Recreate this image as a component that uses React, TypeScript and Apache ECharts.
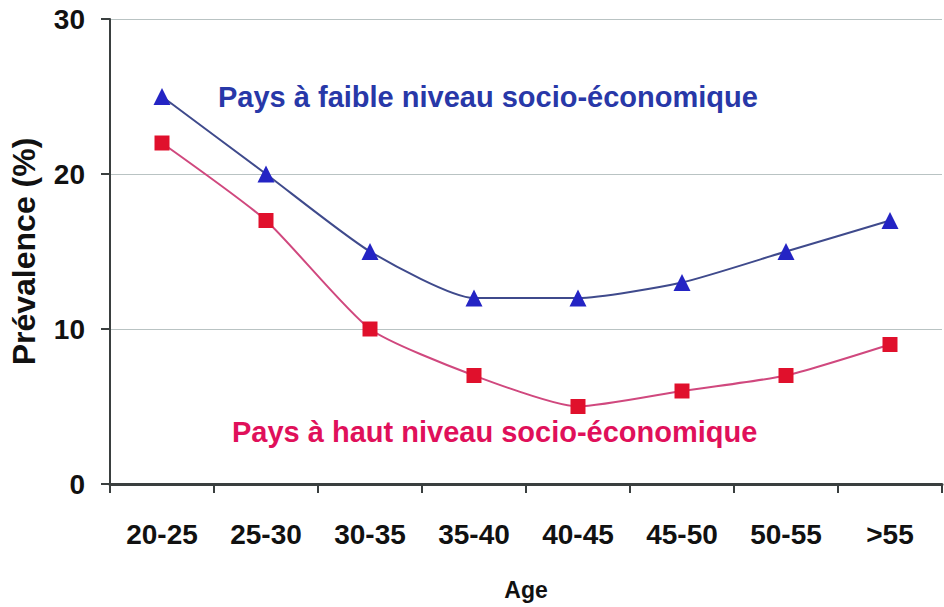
import React, { useEffect, useRef } from "react";
import * as echarts from "echarts";

const categories = ["20-25", "25-30", "30-35", "35-40", "40-45", "45-50", "50-55", ">55"];
const lowIncome = [25, 20, 15, 12, 12, 13, 15, 17];
const highIncome = [22, 17, 10, 7, 5, 6, 7, 9];
const yTicks = [0, 10, 20, 30];
const lowLabel = "Pays à faible niveau socio-économique";
const highLabel = "Pays à haut niveau socio-économique";

export default function App() {
  const ref = useRef<HTMLDivElement>(null);
  useEffect(() => {
    const chart = echarts.init(ref.current!, undefined, { renderer: "svg" });
    const font = "'Liberation Sans', Arial, sans-serif";
    chart.setOption({
      animation: false,
      backgroundColor: "#ffffff",
      grid: { left: 110, right: 2, top: 19, bottom: 123, outerBoundsMode: "none", containLabel: false },
      xAxis: {
        type: "category",
        data: categories,
        boundaryGap: true,
        name: "Age",
        nameLocation: "middle",
        nameGap: 94,
        nameTextStyle: { fontFamily: font, fontWeight: "bold", fontSize: 23, color: "#111" },
        axisLine: { lineStyle: { color: "#3a3f3f", width: 3 } },
        axisTick: { show: true, length: 9, lineStyle: { color: "#3a3f3f", width: 2 } },
        axisLabel: { fontFamily: font, fontWeight: "bold", fontSize: 28, color: "#111", margin: 36 },
      },
      yAxis: {
        type: "value",
        min: 0,
        max: 30,
        interval: 10,
        name: "Prévalence (%)",
        nameLocation: "middle",
        nameGap: 70,
        nameRotate: 90,
        nameTextStyle: { fontFamily: font, fontWeight: "bold", fontSize: 32, color: "#111" },
        axisLine: { show: true, lineStyle: { color: "#3a3f3f", width: 2 } },
        axisTick: { show: true, length: 9, lineStyle: { color: "#3a3f3f", width: 2 } },
        axisLabel: {
          fontFamily: font,
          fontWeight: "bold",
          fontSize: 28,
          color: "#111",
          margin: 25,
          formatter: (v: number) => (yTicks.includes(v) ? String(v) : ""),
        },
        splitLine: { show: true, lineStyle: { color: "#b9c3c3", width: 1 } },
      },
      series: [
        {
          type: "line",
          name: lowLabel,
          data: lowIncome,
          smooth: 0.2,
          symbol: "triangle",
          symbolSize: 17,
          lineStyle: { color: "#3f4a8c", width: 2 },
          itemStyle: { color: "#2424c4" },
        },
        {
          type: "line",
          name: highLabel,
          data: highIncome,
          smooth: 0.2,
          symbol: "rect",
          symbolSize: 15,
          lineStyle: { color: "#d0487e", width: 2 },
          itemStyle: { color: "#e0102c" },
        },
      ],
      graphic: [
        {
          type: "text",
          left: 218,
          top: 82,
          style: { text: lowLabel, fontFamily: font, fontWeight: "bold", fontSize: 29, fill: "#2838a8" },
        },
        {
          type: "text",
          left: 232,
          top: 417,
          style: { text: highLabel, fontFamily: font, fontWeight: "bold", fontSize: 29, fill: "#e0105a" },
        },
      ],
    });
    return () => chart.dispose();
  }, []);
  return <div ref={ref} style={{ width: 944, height: 607, position: "absolute", left: 0, top: 0 }} />;
}
